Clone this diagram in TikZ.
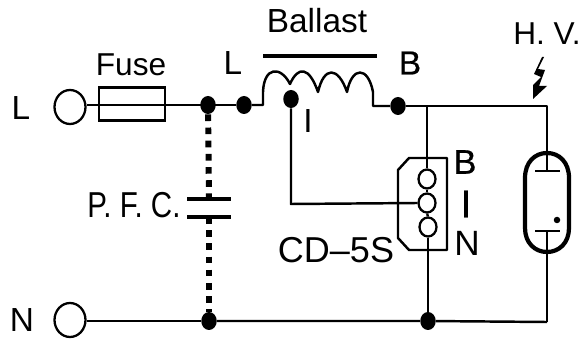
\documentclass[tikz,border=0pt]{standalone}
\usepackage{fontspec}
\setmainfont{Liberation Sans}
\newfontfamily\narrowfont[FakeStretch=0.82]{Liberation Sans}
\newfontfamily\midfont[FakeBold=0.6]{Liberation Sans}
\usetikzlibrary{shapes.geometric, positioning}
\tikzstyle{wire} = [line width=1.4pt, line join=round]
\tikzstyle{dotjoin} = [ellipse, fill=black, minimum width=0.31cm, minimum height=0.36cm, inner sep=0pt]
\tikzstyle{terminal} = [ellipse, draw, line width=1.3pt, minimum width=0.62cm, minimum height=0.68cm, inner sep=0pt]
\tikzstyle{pin} = [ellipse, draw, line width=1.3pt, minimum width=0.34cm, minimum height=0.38cm, inner sep=0pt]
\tikzstyle{caption} = [font=\fontsize{18}{18}\selectfont, inner sep=0pt]

\begin{document}
\begin{tikzpicture}[x=0.02cm, y=-0.02cm]
        \useasboundingbox (0,0) rectangle (580,340);

        % left side
        \node (termL) [terminal] at (70,107) {};
        \node (termN) [terminal] at (70,320) {};
        \node (fuse) [draw, line width=1.3pt, minimum width=1.32cm, minimum height=0.66cm, inner sep=0pt] at (132,104) {};
        \node (dotC) [dotjoin] at (208,105) {};
        \node (dotL) [dotjoin] at (244,105) {};
        \node (dotN) [dotjoin] at (209,321) {};
        \draw [wire] (termL.east |- dotC) -- (dotC.center) -- (dotL);
        \draw [wire] (termN.east |- dotN) -- (dotN);

        % capacitor
        \coordinate (capT) at (209,199);
        \coordinate (capB) at (209,217);
        \draw [line width=3.4pt, dash pattern=on 3.8pt off 3.7pt] (dotC) -- (capT);
        \draw [line width=3.4pt, dash pattern=on 3.8pt off 3.7pt] (capB) -- (dotN);
        \draw [line width=2.8pt] (187,199) -- (231,199);
        \draw [line width=2.8pt] (187,217) -- (231,217);

        % ballast
        \coordinate (coilA) at (263,105);
        \coordinate (coilB) at (373,106);
        \node (dotI) [dotjoin] at (291,99) {};
        \node (dotB) [dotjoin] at (398,106) {};
        \draw [line width=2.8pt] (263,56) -- (377,56);
        \draw [wire] (dotL) -- (coilA) -- (263,92)
            .. controls (264,66) and (281,66) .. (290,84)
            .. controls (298,66) and (309,66) .. (318,92)
            .. controls (324,66) and (338,66) .. (347,92)
            .. controls (352,66) and (368,66) .. (373,92) -- (coilB) -- (dotB);

        % lamp
        \coordinate (cornerHV) at (547,106);
        \coordinate (cornerN) at (547,322);
        \coordinate (lampT) at (547,153);
        \coordinate (lampB) at (547,252);
        \draw [wire] (dotB) -- (cornerHV) -- (lampT);
        \draw [line width=2.4pt] (525,178) .. controls (525,162) and (535,153) .. (547,153)
            .. controls (559,153) and (569,162) .. (569,178) -- (569,228)
            .. controls (569,243) and (559,252) .. (547,252)
            .. controls (535,252) and (525,243) .. (525,228) -- cycle;
        \draw [wire] (lampT) -- (547,171);
        \draw [wire] (535,171) -- (560,171);
        \draw [wire] (535,231) -- (560,231);
        \draw [wire] (547,231) -- (lampB) -- (cornerN);
        \node (lampdot) [circle, fill=black, minimum size=0.13cm, inner sep=0pt] at (557,220) {};

        % starter
        \node (pinB) [pin] at (427,179) {};
        \node (pinI) [pin] at (427,203) {};
        \node (pinN) [pin] at (428,227) {};
        \node (dotS) [dotjoin] at (428,321) {};
        \draw [wire] (398,170) -- (409,158) -- (447,158) -- (447,250) -- (409,250) -- (398,238) -- cycle;
        \draw [wire] (427,106) -- (pinB);
        \draw [wire] (pinB) -- (pinI);
        \draw [wire] (pinI) -- (pinN);
        \draw [wire] (pinN) -- (dotS);
        \draw [wire] (dotI) -- (291,204) -- (pinI.west);
        \draw [wire] (dotN) -- (dotS) -- (cornerN);

        % bolt
        \fill (542,57) -- (534,74) -- (541,77) -- (533,85) -- (533,99) -- (547,86) -- (539,86) -- (545,70) -- (538,69) -- (544,57) -- cycle;

        % labels
        \node (lblL) [caption, font=\fontsize{19}{19}\selectfont] at (21,108) {L};
        \node (lblN) [caption, font=\fontsize{19}{19}\selectfont] at (22,320) {N};
        \node (lblFuse) [caption] at (131,65) {Fuse};
        \node (lblL2) [caption, font=\fontsize{19}{19}\selectfont] at (233,63) {L};
        \node (lblBallast) [caption, font=\fontsize{19}{19}\selectfont] at (317,21) {Ballast};
        \node (lblB) [caption, font=\midfont\fontsize{19}{19}\selectfont] at (410,63) {B};
        \node (lblI) [caption, font=\fontsize{19}{19}\selectfont] at (308,121) {I};
        \node (lblHV) [caption] at (547,34) {H. V.};
        \node (lblPFC) [caption, font=\narrowfont\fontsize{20.5}{20.5}\selectfont] at (134,205) {P. F. C.};
        \node (lblCD) [caption, font=\fontsize{20.5}{20.5}\selectfont] at (336,250) {CD--5S};
        \node (lblB2) [caption, font=\midfont\fontsize{19.5}{19.5}\selectfont] at (465,162) {B};
        \node (lblI2) [caption, font=\midfont\fontsize{22}{22}\selectfont] at (466,204) {I};
        \node (lblN2) [caption, font=\fontsize{20}{20}\selectfont] at (467,243) {N};
    \end{tikzpicture}
\end{document}
